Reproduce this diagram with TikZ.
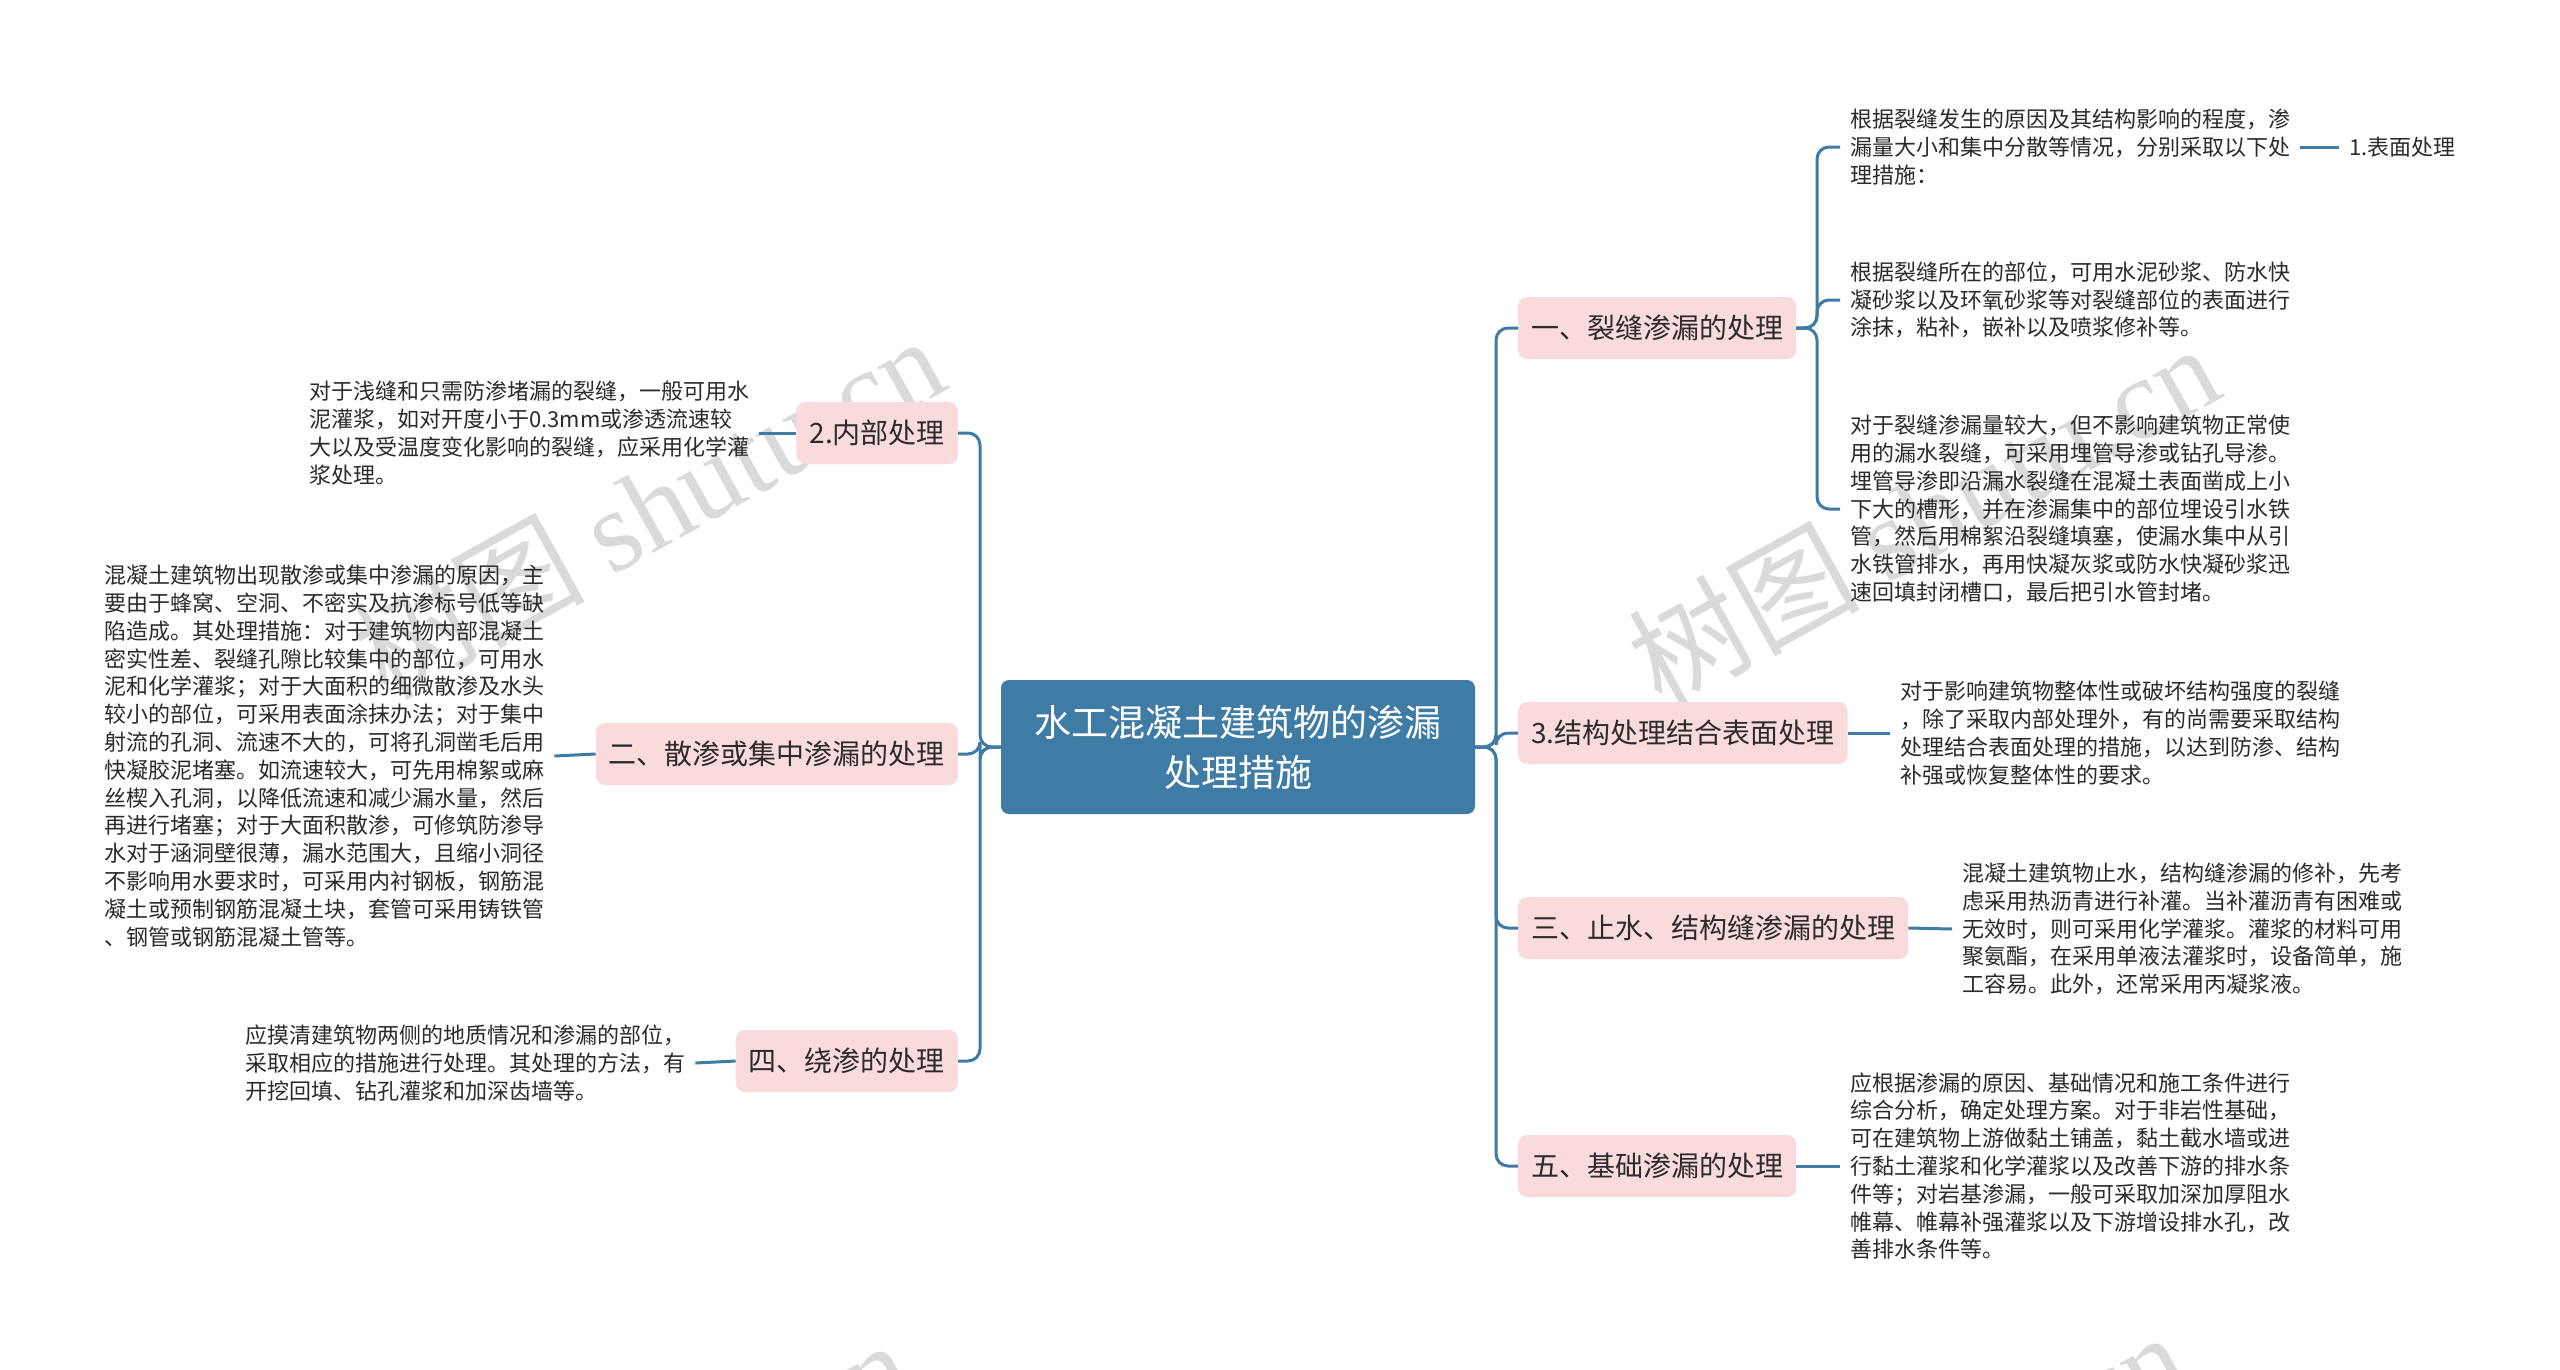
\documentclass[tikz,border=0pt]{standalone}
\usepackage{fontspec}
\setmainfont{Noto Sans CJK SC}
\newfontfamily\wmlatin{Liberation Serif}
\definecolor{mainblue}{HTML}{3E7CA6}
\definecolor{linkblue}{HTML}{3F7BA3}
\definecolor{pinkbg}{HTML}{FADBDB}
\definecolor{txt}{HTML}{2B2B2B}
\definecolor{wm}{HTML}{DADADA}
\begin{document}
\begin{tikzpicture}[x=1pt,y=-1pt,
  rootbox/.style={fill=mainblue, text=white, rounded corners=8pt, align=center,
    font=\fontsize{37}{50}\selectfont, minimum width=474pt, minimum height=134pt, inner sep=0pt},
  topicbox/.style={fill=pinkbg, text=txt, rounded corners=9pt,
    font=\fontsize{28}{34}\selectfont, minimum height=62pt, inner xsep=13pt, inner ysep=0pt},
  notetext/.style={text=txt, align=left, font=\fontsize{22}{27.8}\selectfont,
    inner xsep=10pt, inner ysep=0pt, anchor=west},
  conn/.style={draw=linkblue, line width=3pt, rounded corners=12pt},
  wmark/.style={text=wm, rotate=29, font=\fontsize{116}{120}\selectfont}
]
\useasboundingbox (0,0) rectangle (2560,1369);
\fill[white] (0,0) rectangle (2560,1369);

% watermarks
\begin{scope}
\clip (0,0) rectangle (2560,1369);
\node[wmark] (wm1) at (648,506) {树图 {\wmlatin shutu.cn}};
\node[wmark] (wm2) at (1923,514) {树图 {\wmlatin shutu.cn}};
\node[wmark] (wm3) at (615,1510) {树图 {\wmlatin shutu.cn}};
\node[wmark] (wm4) at (1890,1502) {树图 {\wmlatin shutu.cn}};
\end{scope}

% root
\node[rootbox] (root) at (1238,747) {水工混凝土建筑物的渗漏\\处理措施};

% right topics
\node[topicbox, anchor=west] (n1) at (1518,328) {一、裂缝渗漏的处理};
\node[topicbox, anchor=west] (n2) at (1518,733) {3.结构处理结合表面处理};
\node[topicbox, anchor=west] (n3) at (1518,928) {三、止水、结构缝渗漏的处理};
\node[topicbox, anchor=west] (n4) at (1518,1166) {五、基础渗漏的处理};

% left topics
\node[topicbox, anchor=east] (l1) at (958,433) {2.内部处理};
\node[topicbox, anchor=east] (l2) at (958,754) {二、散渗或集中渗漏的处理};
\node[topicbox, anchor=east] (l3) at (958,1061) {四、绕渗的处理};

% right notes
\node[notetext] (t1a) at (1840,147) {根据裂缝发生的原因及其结构影响的程度，渗\\漏量大小和集中分散等情况，分别采取以下处\\理措施：};
\node[notetext] (sub) at (2339,147) {1.表面处理};
\node[notetext] (t1b) at (1840,300) {根据裂缝所在的部位，可用水泥砂浆、防水快\\凝砂浆以及环氧砂浆等对裂缝部位的表面进行\\涂抹，粘补，嵌补以及喷浆修补等。};
\node[notetext] (t1c) at (1840,509) {对于裂缝渗漏量较大，但不影响建筑物正常使\\用的漏水裂缝，可采用埋管导渗或钻孔导渗。\\埋管导渗即沿漏水裂缝在混凝土表面凿成上小\\下大的槽形，并在渗漏集中的部位埋设引水铁\\管，然后用棉絮沿裂缝填塞，使漏水集中从引\\水铁管排水，再用快凝灰浆或防水快凝砂浆迅\\速回填封闭槽口，最后把引水管封堵。};
\node[notetext] (t2) at (1890,733) {对于影响建筑物整体性或破坏结构强度的裂缝\\，除了采取内部处理外，有的尚需要采取结构\\处理结合表面处理的措施，以达到防渗、结构\\补强或恢复整体性的要求。};
\node[notetext] (t3) at (1952,929) {混凝土建筑物止水，结构缝渗漏的修补，先考\\虑采用热沥青进行补灌。当补灌沥青有困难或\\无效时，则可采用化学灌浆。灌浆的材料可用\\聚氨酯，在采用单液法灌浆时，设备简单，施\\工容易。此外，还常采用丙凝浆液。};
\node[notetext] (t4) at (1840,1166) {应根据渗漏的原因、基础情况和施工条件进行\\综合分析，确定处理方案。对于非岩性基础，\\可在建筑物上游做黏土铺盖，黏土截水墙或进\\行黏土灌浆和化学灌浆以及改善下游的排水条\\件等；对岩基渗漏，一般可采取加深加厚阻水\\帷幕、帷幕补强灌浆以及下游增设排水孔，改\\善排水条件等。};

% left notes
\node[notetext] (lt1) at (299,433) {对于浅缝和只需防渗堵漏的裂缝，一般可用水\\泥灌浆，如对开度小于0.3mm或渗透流速较\\大以及受温度变化影响的裂缝，应采用化学灌\\浆处理。};
\node[notetext] (lt2) at (94,756) {混凝土建筑物出现散渗或集中渗漏的原因，主\\要由于蜂窝、空洞、不密实及抗渗标号低等缺\\陷造成。其处理措施：对于建筑物内部混凝土\\密实性差、裂缝孔隙比较集中的部位，可用水\\泥和化学灌浆；对于大面积的细微散渗及水头\\较小的部位，可采用表面涂抹办法；对于集中\\射流的孔洞、流速不大的，可将孔洞凿毛后用\\快凝胶泥堵塞。如流速较大，可先用棉絮或麻\\丝楔入孔洞，以降低流速和减少漏水量，然后\\再进行堵塞；对于大面积散渗，可修筑防渗导\\水对于涵洞壁很薄，漏水范围大，且缩小洞径\\不影响用水要求时，可采用内衬钢板，钢筋混\\凝土或预制钢筋混凝土块，套管可采用铸铁管\\、钢管或钢筋混凝土管等。};
\node[notetext] (lt3) at (235,1063) {应摸清建筑物两侧的地质情况和渗漏的部位，\\采取相应的措施进行处理。其处理的方法，有\\开挖回填、钻孔灌浆和加深齿墙等。};

% connectors root -> topics
\draw[conn] (root.east) -- (1496,747) |- (n1.west);
\draw[conn] (root.east) -- (1496,747) |- (n2.west);
\draw[conn] (root.east) -- (1496,747) |- (n3.west);
\draw[conn] (root.east) -- (1496,747) |- (n4.west);
\draw[conn] (root.west) -- (980,747) |- (l1.east);
\draw[conn] (root.west) -- (980,747) |- (l2.east);
\draw[conn] (root.west) -- (980,747) |- (l3.east);

% topic -> notes
\draw[conn] (n1.east) -- (1817,328) |- (t1a.west);
\draw[conn] (n1.east) -- (1817,328) |- (t1b.west);
\draw[conn] (n1.east) -- (1817,328) |- (t1c.west);
\draw[conn] (t1a.east) -- (sub.west);
\draw[conn] (n2.east) -- (t2.west);
\draw[conn] (n3.east) -- (t3.west);
\draw[conn] (n4.east) -- (t4.west);
\draw[conn] (l1.west) -- (lt1.east);
\draw[conn] (l2.west) -- (lt2.east);
\draw[conn] (l3.west) -- (lt3.east);
\end{tikzpicture}
\end{document}
